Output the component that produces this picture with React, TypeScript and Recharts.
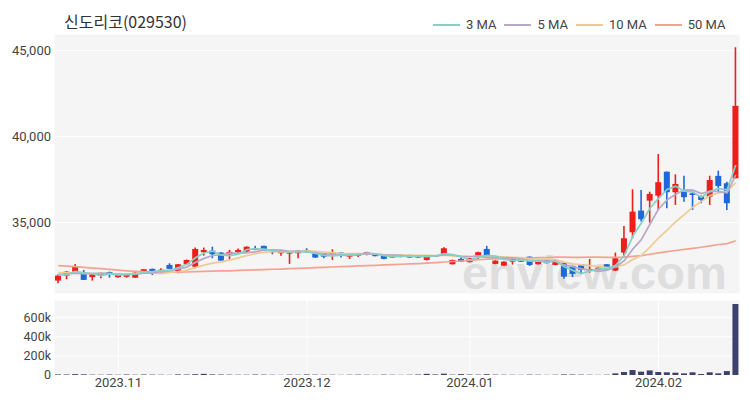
import React from "react";
import { ComposedChart, Bar, Line, XAxis, YAxis, CartesianGrid } from "recharts";

const dates = [
  "2023-10-23","2023-10-24","2023-10-25","2023-10-26","2023-10-27","2023-10-30","2023-10-31",
  "2023-11-01","2023-11-02","2023-11-03","2023-11-06","2023-11-07","2023-11-08","2023-11-09","2023-11-10",
  "2023-11-13","2023-11-14","2023-11-15","2023-11-16","2023-11-17","2023-11-20","2023-11-21","2023-11-22",
  "2023-11-23","2023-11-24","2023-11-27","2023-11-28","2023-11-29","2023-11-30",
  "2023-12-01","2023-12-04","2023-12-05","2023-12-06","2023-12-07","2023-12-08","2023-12-11","2023-12-12",
  "2023-12-13","2023-12-14","2023-12-15","2023-12-18","2023-12-19","2023-12-20","2023-12-21","2023-12-22",
  "2023-12-26","2023-12-27","2023-12-28",
  "2024-01-02","2024-01-03","2024-01-04","2024-01-05","2024-01-08","2024-01-09","2024-01-10","2024-01-11",
  "2024-01-12","2024-01-15","2024-01-16","2024-01-17","2024-01-18","2024-01-19","2024-01-22","2024-01-23",
  "2024-01-24","2024-01-25","2024-01-26","2024-01-29","2024-01-30","2024-01-31",
  "2024-02-01","2024-02-02","2024-02-05","2024-02-06","2024-02-07","2024-02-08","2024-02-13","2024-02-14",
  "2024-02-15","2024-02-16",
];

const opens = [
  31630, 31920, 32150, 32120, 31830, 31900, 32130, 31830, 31850, 31800,
  32060, 32310, 32180, 32540, 32090, 32580, 32440, 33280, 33370, 33260,
  33150, 33280, 33320, 33500, 33650, 33370, 33220, 33200, 33220, 33410,
  33220, 33220, 33080, 33260, 33020, 33080, 33120, 33120, 33080, 32970,
  33000, 33120, 32970, 32830, 33020, 33180, 32580, 32890, 32700, 33020,
  33470, 32600, 32500, 32730, 32730, 33020, 32580, 32870, 32540, 32670,
  32480, 32580, 32270, 32250, 32580, 32210, 33260, 34440, 35700, 36280,
  36570, 37960, 36770, 36800, 36710, 36550, 36510, 37720, 37290, 37580,
];
const highs = [
  31980, 32180, 32600, 32250, 32050, 32080, 32150, 32050, 31980, 32100,
  32300, 32330, 32350, 32640, 32600, 32850, 33550, 33550, 33600, 33280,
  33420, 33500, 33620, 33650, 33660, 33380, 33320, 33330, 33400, 33510,
  33240, 33230, 33450, 33280, 33200, 33240, 33300, 33140, 33100, 33140,
  33140, 33140, 33100, 33050, 33100, 33570, 32850, 32990, 32950, 33300,
  33650, 32810, 32750, 32910, 32910, 33040, 32890, 32890, 32810, 32690,
  32500, 32600, 32890, 32400, 32600, 33260, 34810, 36940, 36900, 36800,
  38990, 37980, 37810, 37730, 36800, 36580, 37730, 38020, 37380, 45200,
];
const lows = [
  31480, 31710, 32100, 31670, 31630, 31770, 31800, 31800, 31800, 31800,
  32060, 31950, 32030, 32300, 32060, 32560, 32400, 33080, 32930, 32780,
  32860, 33250, 33300, 33400, 33350, 33160, 33080, 32600, 32930, 33250,
  32950, 32930, 32830, 32970, 32890, 33000, 33100, 33040, 32870, 32950,
  32980, 32950, 32950, 32800, 33000, 33150, 32560, 32710, 32680, 32830,
  33060, 32580, 32480, 32560, 32710, 32480, 32560, 32620, 32520, 31730,
  31830, 32000, 32090, 32230, 32230, 32190, 33020, 34090, 35060, 35000,
  35740, 35840, 36030, 36220, 35740, 36130, 36030, 36800, 35740, 37580,
];
const closes = [
  31920, 32150, 32440, 31670, 32020, 32060, 31980, 31980, 31950, 32090,
  32290, 32090, 32260, 32310, 32580, 32830, 33470, 33410, 33160, 32790,
  33300, 33410, 33600, 33420, 33370, 33280, 33310, 33300, 33370, 33280,
  32970, 33020, 33220, 33080, 33180, 33220, 33280, 33060, 32890, 33120,
  33120, 32970, 33080, 33020, 33080, 33510, 32830, 32730, 32930, 33280,
  33080, 32790, 32730, 32890, 32890, 32540, 32870, 32640, 32790, 31860,
  32020, 32250, 32300, 32380, 32250, 32930, 34090, 35640, 35200, 36670,
  37350, 36770, 37250, 36480, 36610, 36320, 37480, 37130, 36130, 41790,
];
const volumes = [
  6000, 5000, 9000, 7000, 4000, 3000, 5000, 3000, 4000, 3000,
  5000, 4000, 3000, 2000, 6000, 5000, 8000, 12000, 6000, 5000,
  4000, 3000, 3000, 5000, 4000, 3000, 2000, 4000, 3000, 6000,
  4000, 3000, 3000, 2000, 3000, 4000, 3000, 2000, 4000, 3000,
  2000, 3000, 5000, 12000, 6000, 14000, 4000, 9000, 5000, 4000,
  8000, 4000, 3000, 3000, 2000, 4000, 3000, 2000, 3000, 6000,
  5000, 4000, 3000, 2000, 3000, 17000, 31000, 52000, 35000, 48000,
  31000, 28000, 24000, 17000, 28000, 10000, 28000, 17000, 41000, 743000,
];
const ma3 = [
  31950, 31980, 32170, 32087, 32043, 31917, 32020, 32007, 31970, 32007,
  32110, 32157, 32213, 32220, 32383, 32573, 32960, 33237, 33347, 33120,
  33083, 33167, 33437, 33477, 33463, 33357, 33320, 33297, 33327, 33317,
  33207, 33090, 33070, 33107, 33160, 33160, 33227, 33187, 33077, 33023,
  33043, 33070, 33057, 33023, 33060, 33203, 33140, 33023, 32830, 32980,
  33097, 33050, 32867, 32803, 32837, 32773, 32767, 32683, 32767, 32430,
  32223, 32043, 32190, 32310, 32310, 32520, 33090, 34220, 34977, 35837,
  36407, 36930, 37123, 36833, 36780, 36470, 36803, 36977, 36913, 38350,
];
const ma5 = [
  32000, 32010, 32060, 32040, 32040, 32068, 32034, 31942, 31998, 32012,
  32058, 32080, 32136, 32208, 32306, 32414, 32690, 32920, 33090, 33132,
  33226, 33214, 33252, 33304, 33420, 33416, 33396, 33336, 33326, 33308,
  33246, 33188, 33172, 33114, 33094, 33144, 33196, 33164, 33126, 33114,
  33094, 33032, 33036, 33062, 33054, 33132, 33104, 33034, 33016, 33056,
  32970, 32962, 32962, 32954, 32876, 32768, 32784, 32766, 32746, 32540,
  32436, 32312, 32244, 32162, 32240, 32422, 32790, 33458, 34022, 34906,
  35790, 36326, 36648, 36904, 36892, 36686, 36828, 36804, 36734, 37770,
];
const ma10 = [
  32100, 32080, 32070, 32050, 32040, 32040, 32030, 32020, 32020, 32026,
  32063, 32057, 32039, 32103, 32159, 32236, 32385, 32528, 32649, 32719,
  32820, 32952, 33086, 33197, 33276, 33321, 33305, 33294, 33315, 33364,
  33331, 33292, 33254, 33220, 33201, 33195, 33192, 33168, 33120, 33104,
  33119, 33114, 33100, 33094, 33084, 33113, 33068, 33035, 33039, 33055,
  33051, 33033, 32998, 32985, 32966, 32869, 32873, 32864, 32850, 32708,
  32602, 32548, 32505, 32454, 32390, 32429, 32551, 32851, 33092, 33573,
  34106, 34558, 35053, 35463, 35899, 36238, 36577, 36726, 36819, 37331,
];
const ma50 = [
  32500, 32470, 32440, 32400, 32360, 32320, 32280, 32240, 32200, 32170,
  32150, 32130, 32120, 32120, 32120, 32130, 32150, 32170, 32180, 32190,
  32200, 32220, 32240, 32250, 32270, 32290, 32300, 32320, 32340, 32360,
  32380, 32400, 32420, 32440, 32460, 32480, 32500, 32520, 32540, 32560,
  32580, 32600, 32620, 32650, 32680, 32710, 32740, 32770, 32810, 32850,
  32870, 32890, 32890, 32920, 32930, 32940, 32960, 32970, 32990, 32990,
  32980, 32980, 32990, 32990, 32980, 32980, 32990, 33040, 33080, 33160,
  33240, 33310, 33380, 33440, 33500, 33570, 33650, 33730, 33780, 33950,
];

const tickDates = ["2023-11-01", "2023-12-01", "2024-01-02", "2024-02-01"];
const tickLabels = ["2023.11", "2023.12", "2024.01", "2024.02"];
const priceTicks = [35000, 40000, 45000];
const volumeTicks = [0, 200000, 400000, 600000];
const maNames = ["3 MA", "5 MA", "10 MA", "50 MA"];
const maColors = ["#86d0c6", "#b8a8c6", "#eecb93", "#f4a391"];

const RED = "#f01d1d";
const BLUE = "#1e68d8";
const PLOT_BG = "#f5f5f5";
const FONT = "Roboto, 'Noto Sans', sans-serif";

const data = dates.map((d, i) => ({
  date: d,
  open: opens[i],
  high: highs[i],
  low: lows[i],
  close: closes[i],
  volume: volumes[i],
  ma3: ma3[i],
  ma5: ma5[i],
  ma10: ma10[i],
  ma50: ma50[i],
}));

const Candle = (props: any) => {
  const { x, y, width, height, payload } = props;
  if (!payload || x == null || y == null) return null;
  const { open, close, high, low } = payload;
  const up = close >= open;
  const color = up ? RED : BLUE;
  const range = high - low;
  const ratio = range > 0 ? height / range : 0;
  const yOf = (v: number) => y + (high - v) * ratio;
  const top = yOf(Math.max(open, close));
  const bot = yOf(Math.min(open, close));
  const cx = x + width / 2;
  return (
    <g>
      <line x1={cx} x2={cx} y1={y} y2={y + height} stroke={color} strokeWidth={1.6} />
      <rect x={x} y={top} width={width} height={Math.max(1.2, bot - top)} fill={color} />
    </g>
  );
};

const fmtPrice = (v: number) => v.toLocaleString("en-US");
const fmtVol = (v: number) => (v === 0 ? "0" : `${Math.round(v / 1000)}k`);
const fmtDate = (d: string) => {
  const i = tickDates.indexOf(d);
  return i >= 0 ? tickLabels[i] : "";
};

export default function App() {
  const tickStyle = { fontSize: 13, fill: "#444", fontFamily: FONT };
  const volTickStyle = { fontSize: 12.5, fill: "#444", fontFamily: FONT };
  return (
    <div style={{ position: "absolute", left: 0, top: 0, width: 750, height: 400, background: "#fff", overflow: "hidden" }}>
      {/* plot backgrounds */}
      <div style={{ position: "absolute", left: 54, top: 34, width: 686, height: 260, background: PLOT_BG }} />
      <div style={{ position: "absolute", left: 54, top: 300, width: 686, height: 75, background: PLOT_BG }} />
      {/* watermark */}
      <div
        style={{
          position: "absolute",
          left: 462,
          top: 246,
          fontSize: 47,
          fontFamily: "'Liberation Sans', Arial, sans-serif",
          fontWeight: 700,
          color: "#dedede",
          lineHeight: "54px",
          whiteSpace: "nowrap",
        }}
      >
        enview.com
      </div>
      {/* title */}
      <div
        style={{
          position: "absolute",
          left: 64,
          top: 10,
          fontSize: 16,
          color: "#333",
          fontFamily: "'Noto Sans CJK KR', sans-serif",
          lineHeight: "22px",
        }}
      >
        신도리코(029530)
      </div>
      {/* legend */}
      <div style={{ position: "absolute", left: 433, top: 16, display: "flex", alignItems: "center", fontFamily: FONT, fontSize: 13, color: "#444" }}>
        {maNames.map((n, i) => (
          <div key={n} style={{ display: "flex", alignItems: "center", marginRight: 8 }}>
            <div style={{ width: 27, height: 2, background: maColors[i], marginRight: 6 }} />
            <span style={{ lineHeight: "18px" }}>{n}</span>
          </div>
        ))}
      </div>
      {/* price chart */}
      <div style={{ position: "absolute", left: 0, top: 0 }}>
        <ComposedChart width={750} height={300} data={data} margin={{ top: 34, right: 10, bottom: 6, left: 0 }}>
          <CartesianGrid stroke="#ffffff" strokeWidth={1} fill="none" />
          <XAxis dataKey="date" ticks={tickDates} tick={false} axisLine={false} tickLine={false} height={0} />
          <YAxis
            domain={[30850, 45970]}
            ticks={priceTicks}
            tickFormatter={fmtPrice}
            width={54}
            axisLine={false}
            tickLine={false}
            tickSize={0}
            tickMargin={3}
            tick={tickStyle}
            interval={0}
            allowDataOverflow
          />
          <Bar
            dataKey={(d: any) => [d.low, d.high]}
            shape={(p: any) => <Candle {...p} />}
            barSize={6}
            isAnimationActive={false}
          />
          <Line type="linear" dataKey="ma50" stroke={maColors[3]} strokeWidth={1.7} dot={false} isAnimationActive={false} />
          <Line type="linear" dataKey="ma10" stroke={maColors[2]} strokeWidth={1.7} dot={false} isAnimationActive={false} />
          <Line type="linear" dataKey="ma5" stroke={maColors[1]} strokeWidth={1.7} dot={false} isAnimationActive={false} />
          <Line type="linear" dataKey="ma3" stroke={maColors[0]} strokeWidth={1.7} dot={false} isAnimationActive={false} />
        </ComposedChart>
      </div>
      {/* volume chart */}
      <div style={{ position: "absolute", left: 0, top: 300 }}>
        <ComposedChart width={750} height={100} data={data} margin={{ top: 0, right: 10, bottom: 0, left: 0 }}>
          <CartesianGrid stroke="#ffffff" strokeWidth={1} fill="none" />
          <XAxis
            dataKey="date"
            ticks={tickDates}
            tickFormatter={fmtDate}
            axisLine={false}
            tickLine={false}
            tickSize={0}
            tickMargin={3}
            height={25}
            interval={0}
            tick={tickStyle}
          />
          <YAxis
            domain={[0, 785000]}
            ticks={volumeTicks}
            tickFormatter={fmtVol}
            width={54}
            axisLine={false}
            tickLine={false}
            tickSize={0}
            tickMargin={3}
            interval={0}
            tick={volTickStyle}
          />
          <Bar dataKey="volume" fill="#3d3f6d" barSize={6} isAnimationActive={false} />
        </ComposedChart>
      </div>
    </div>
  );
}
